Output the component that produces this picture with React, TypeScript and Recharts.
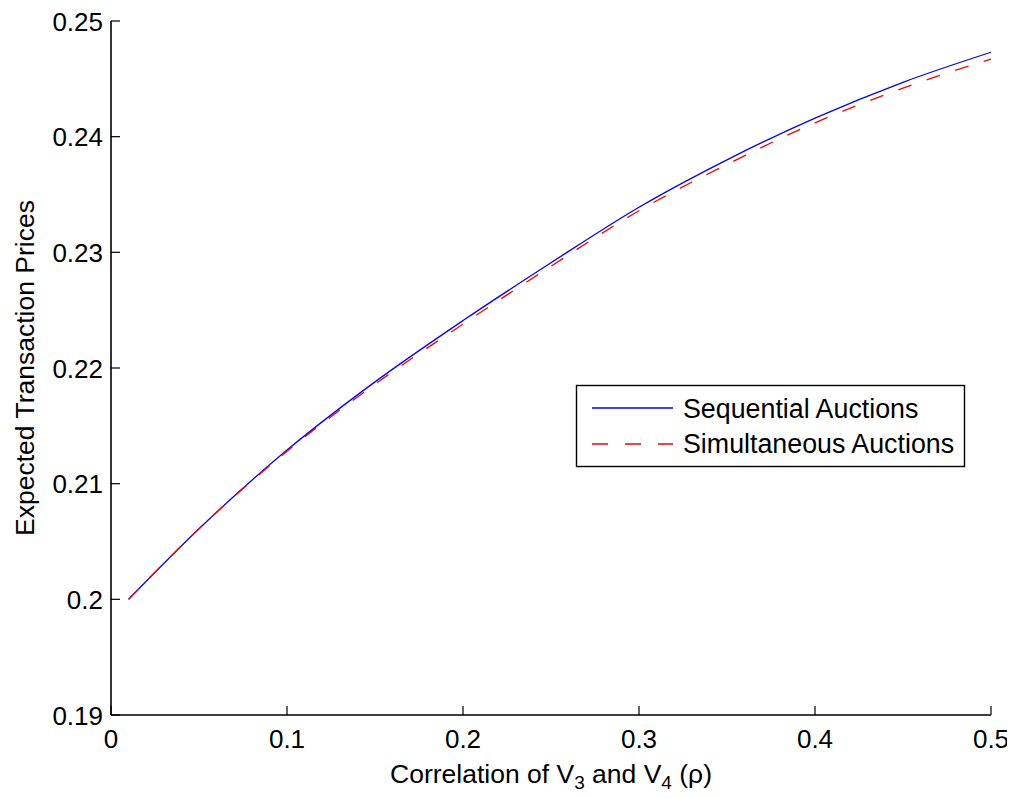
import React from "react";
import { LineChart, Line, XAxis, YAxis } from "recharts";

const rhoValues = [0.01, 0.05, 0.1, 0.15, 0.2, 0.25, 0.3, 0.35, 0.4, 0.45, 0.5];
const sequentialPrices = [0.2, 0.2061, 0.2129, 0.2188, 0.2241, 0.2291, 0.2339, 0.238, 0.2416, 0.2447, 0.2473];
const simultaneousPrices = [0.2, 0.2061, 0.2128, 0.2186, 0.2238, 0.2288, 0.2336, 0.2376, 0.2412, 0.2442, 0.2467];
const xTicks = [0, 0.1, 0.2, 0.3, 0.4, 0.5];
const yTicks = [0.19, 0.2, 0.21, 0.22, 0.23, 0.24, 0.25];

const data = rhoValues.map((r, i) => ({
  rho: r,
  seq: sequentialPrices[i],
  sim: simultaneousPrices[i],
}));

const FONT = "'Liberation Sans', Arial, Helvetica, sans-serif";
const TICK_LEN = 9;
const fmt = (v: number) => String(Number(v.toFixed(3)));

const BottomTick = (props: any) => {
  const { x, y, payload } = props;
  return (
    <g>
      <line x1={x} x2={x} y1={y} y2={y - TICK_LEN} stroke="#000" strokeWidth={1.2} />
      <text x={x} y={y + 33} textAnchor="middle" fontFamily={FONT} fontSize={26} fill="#000">
        {fmt(payload.value)}
      </text>
    </g>
  );
};

const LeftTick = (props: any) => {
  const { x, y, payload } = props;
  return (
    <g>
      <line x1={x} x2={x + TICK_LEN} y1={y} y2={y} stroke="#000" strokeWidth={1.2} />
      <text x={x - 8} y={y + 9.5} textAnchor="end" fontFamily={FONT} fontSize={26} fill="#000">
        {fmt(payload.value)}
      </text>
    </g>
  );
};

const TopTick = (props: any) => {
  const { x, y } = props;
  return <line x1={x} x2={x} y1={y} y2={y + TICK_LEN} stroke="#000" strokeWidth={1.2} />;
};

const RightTick = (props: any) => {
  const { x, y } = props;
  return <line x1={x} x2={x - TICK_LEN} y1={y} y2={y} stroke="#000" strokeWidth={1.2} />;
};

const XLabel = (props: any) => {
  const vb = props.viewBox || {};
  const cx = vb.x + vb.width / 2;
  const by = vb.y + 68;
  return (
    <text x={cx} y={by} textAnchor="middle" fontFamily={FONT} fontSize={26.5} fill="#000">
      Correlation of V
      <tspan fontSize={19} dy={6}>3</tspan>
      <tspan dy={-6}> and V</tspan>
      <tspan fontSize={19} dy={6}>4</tspan>
      <tspan dy={-6}> (ρ)</tspan>
    </text>
  );
};

const YLabel = (props: any) => {
  const vb = props.viewBox || {};
  const cy = vb.y + vb.height / 2;
  const bx = 26;
  return (
    <text
      x={bx}
      y={cy}
      transform={`rotate(-90, ${bx}, ${cy})`}
      textAnchor="middle"
      fontFamily={FONT}
      fontSize={26.5}
      fill="#000"
    >
      Expected Transaction Prices
    </text>
  );
};

const AXIS_LINE = { stroke: "#000", strokeWidth: 1.6 };

export default function App() {
  return (
    <div style={{ position: "relative", width: 1007, height: 790 }}>
      <LineChart
        width={1007}
        height={790}
        data={data}
        margin={{ top: 13, right: 24, bottom: 0, left: 0 }}
      >
        <XAxis
          xAxisId="b"
          dataKey="rho"
          type="number"
          domain={[0, 0.5]}
          ticks={xTicks}
          interval={0}
          height={83}
          tickSize={0}
          tickMargin={0}
          tickLine={false}
          axisLine={AXIS_LINE}
          tick={<BottomTick />}
          label={<XLabel />}
        />
        <XAxis
          xAxisId="t"
          dataKey="rho"
          type="number"
          orientation="top"
          domain={[0, 0.5]}
          ticks={xTicks}
          interval={0}
          height={0}
          tickSize={0}
          tickMargin={0}
          tickLine={false}
          axisLine={AXIS_LINE}
          tick={<TopTick />}
        />
        <YAxis
          yAxisId="l"
          type="number"
          domain={[0.19, 0.25]}
          ticks={yTicks}
          interval={0}
          width={103}
          tickSize={0}
          tickMargin={0}
          tickLine={false}
          axisLine={AXIS_LINE}
          tick={<LeftTick />}
          label={<YLabel />}
        />
        <YAxis
          yAxisId="r"
          type="number"
          orientation="right"
          domain={[0.19, 0.25]}
          ticks={yTicks}
          interval={0}
          width={0}
          tickSize={0}
          tickMargin={0}
          tickLine={false}
          axisLine={AXIS_LINE}
          tick={<RightTick />}
        />
        <Line
          xAxisId="b"
          yAxisId="l"
          type="monotone"
          dataKey="seq"
          stroke="#0000ff"
          strokeWidth={1.3}
          dot={false}
          isAnimationActive={false}
        />
        <Line
          xAxisId="b"
          yAxisId="l"
          type="monotone"
          dataKey="sim"
          stroke="#ff0000"
          strokeWidth={1.3}
          strokeDasharray="14 16"
          dot={false}
          isAnimationActive={false}
        />
      </LineChart>
      <svg
        width={391}
        height={84}
        style={{ position: "absolute", left: 567, top: 376 }}
      >
        <rect x={1.5} y={1.5} width={388} height={81} fill="#fff" stroke="#000" strokeWidth={1.4} />
        <line x1={17} x2={98} y1={24} y2={24} stroke="#0000ff" strokeWidth={1.3} />
        <line x1={17} x2={98} y1={60} y2={60} stroke="#ff0000" strokeWidth={1.3} strokeDasharray="16 17" />
        <text x={108} y={34} fontFamily={FONT} fontSize={26.8} fill="#000">Sequential Auctions</text>
        <text x={108} y={69} fontFamily={FONT} fontSize={26.8} fill="#000">Simultaneous Auctions</text>
      </svg>
    </div>
  );
}
